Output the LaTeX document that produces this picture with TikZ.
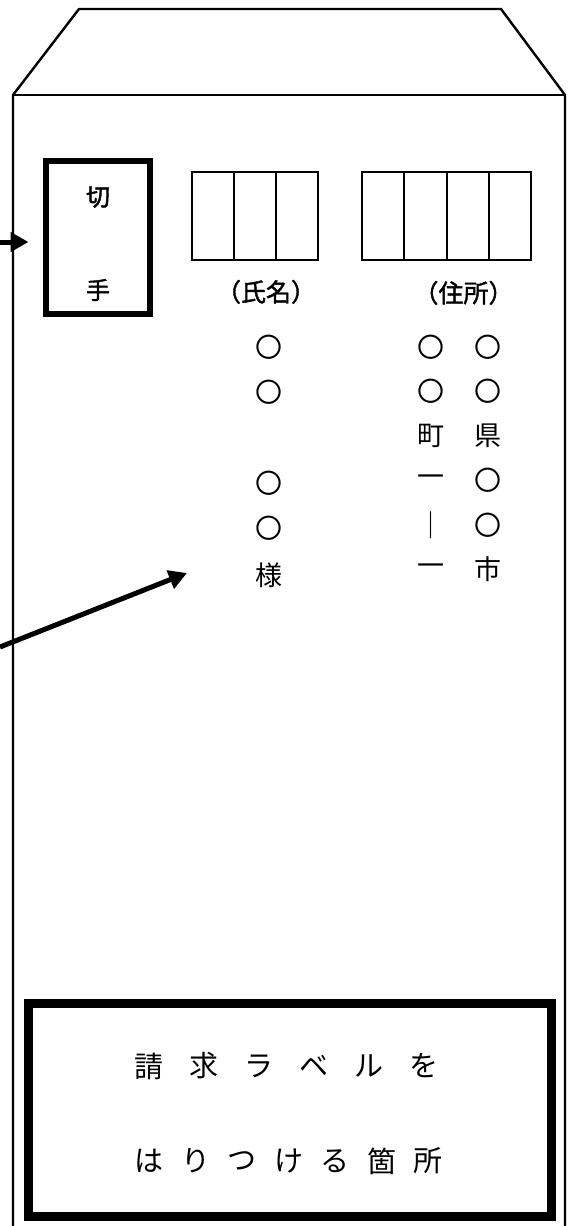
\documentclass[tikz,border=0pt]{standalone}
\usepackage{fontspec}
\newfontfamily\jp{Noto Sans CJK JP}
\newfontfamily\jpbold[FakeBold=1.6]{Noto Sans CJK JP}
\usetikzlibrary{positioning, arrows.meta}
\tikzset{
	every node/.style={
		font=\jp\fontsize{27}{27}\selectfont,
		inner sep=0, outer sep=0
	},
	envline/.style={
		line width=2.4pt,
		line join=miter
	},
	stampbox/.style={
		rectangle, draw,
		line width=6pt,
		minimum width=104pt, minimum height=153pt
	},
	stamptext/.style={
		font=\jpbold\fontsize{24}{24}\selectfont
	},
	cell/.style={
		rectangle, draw,
		line width=1.8pt,
		minimum width=42pt, minimum height=88pt
	},
	heading/.style={
		font=\jpbold\fontsize{25}{25}\selectfont
	},
	labelframe/.style={
		rectangle, draw,
		line width=9pt,
		minimum width=523pt, minimum height=213pt
	},
	pointer/.style={
		line width=5pt,
		-{Triangle[length=18pt, width=19pt]}
	},
}

\begin{document}
\begin{tikzpicture}[x=1pt, y=-1pt]
	\fill[white] (0,0) rectangle (574,1226);
	\useasboundingbox (0,0) rectangle (574,1226);

	% envelope and flap
	\coordinate (flapL) at (13,95);
	\coordinate (flapR) at (565,95);
	\draw[envline] (13,1226) -- (flapL) -- (79,9) -- (501,9) -- (flapR) -- (565,1226);
	\draw[envline] (flapL) -- (flapR);

	% stamp
	\node (stamp)[stampbox] at (98,237.5) {};
	\node (kiri)[stamptext] at (98,197) {切};
	\node (te)[stamptext] at (98,290) {手};

	% postcode boxes
	\foreach \i in {1,2,3}
	{
		\node (name\i)[cell] at ({171+42*\i},216) {};
	}
	\foreach \i in {1,...,4}
	{
		\node (addr\i)[cell, minimum width=42.25pt] at ({341+42.25*\i},216) {};
	}
	\node (namehead)[heading, below=20pt of name2, xshift=11pt] {（氏名）};
	\node (addrhead)[heading, below=21pt of addr2, xshift=38pt] {（住所）};

	% names and address, written top to bottom
	\foreach[count=\i] \ch/\y in {〇/347, 〇/392, 〇/483, 〇/528, 様/575}
	{
		\node (nm\i) at (269,\y) {\ch};
	}
	\foreach[count=\i] \ch in {〇,〇,県,〇,〇,市}
	{
		\node (adA\i) at (488,{302.5+44.5*\i}) {\ch};
	}
	\foreach[count=\i] \ch in {〇,〇,町,一,｜,一}
	{
		\node (adB\i) at (431,{302.5+44.5*\i}) {\ch};
	}

	% arrows from outside
	\coordinate (leftA) at (0,242);
	\coordinate (leftB) at (0,647);
	\coordinate (nametip) at (187,573);
	\draw[pointer] (leftA) -- ([xshift=-17.5pt]leftA -| stamp.west);
	\draw[pointer] (leftB) -- (nametip);

	% label area
	\node (labelbox)[labelframe] at (290,1110) {};
	\foreach[count=\i from 0] \ch in {請,求,ラ,ベ,ル,を}
	{
		\node (lineA\i)[font=\jp\fontsize{29}{29}\selectfont] at ({149+55*\i},1066) {\ch};
	}
	\foreach[count=\i from 0] \ch in {は,り,つ,け,る,箇,所}
	{
		\node (lineB\i)[font=\jp\fontsize{29}{29}\selectfont] at ({149+46.5*\i},1161) {\ch};
	}

\end{tikzpicture}
\end{document}
